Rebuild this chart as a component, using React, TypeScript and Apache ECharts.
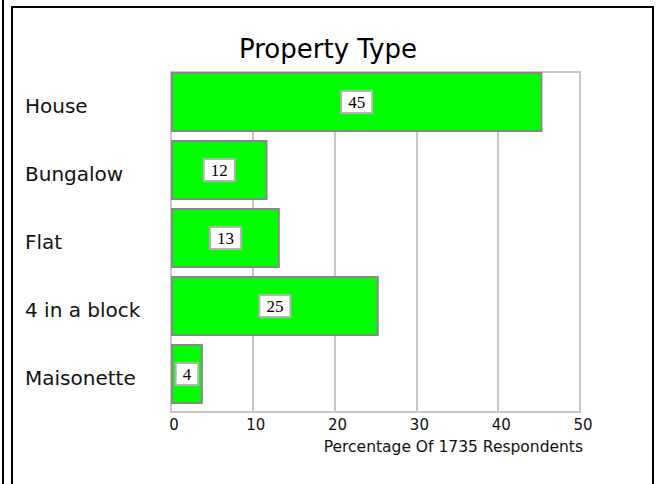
import React, { useEffect, useRef } from "react";
import * as echarts from "echarts";

const categories = ["House", "Bungalow", "Flat", "4 in a block", "Maisonette"];
const percentages = [45.4, 11.8, 13.3, 25.4, 3.9];
const spacer = [null, null, null, null, null];
const xTicks = { min: 0, max: 50, interval: 10 };
const titleText = "Property Type";
const xAxisName = "Percentage Of 1735 Respondents";

export default function App() {
  const ref = useRef<HTMLDivElement>(null);
  useEffect(() => {
    document.body.style.margin = "0";
    const chart = echarts.init(ref.current!, null, { renderer: "svg" });
    chart.setOption({
      animation: false,
      backgroundColor: "#ffffff",
      title: {
        text: titleText,
        left: "center",
        top: 31,
        textStyle: { fontFamily: "DejaVu Sans", fontSize: 26, fontWeight: "normal", color: "#000" },
      },
      graphic: [
        { type: "line", shape: { x1: 3, y1: 0, x2: 3, y2: 484 }, style: { stroke: "#000", lineWidth: 2 } },
        { type: "rect", shape: { x: 12, y: 7, width: 641, height: 520 }, style: { fill: "none", stroke: "#000", lineWidth: 2 } },
      ],
      grid: {
        left: 171,
        top: 72,
        width: 409,
        height: 340,
        show: true,
        borderColor: "#c8c8c8",
        borderWidth: 2,
        backgroundColor: "transparent",
      },
      xAxis: {
        type: "value",
        min: xTicks.min,
        max: xTicks.max,
        interval: xTicks.interval,
        name: xAxisName,
        nameLocation: "end",
        nameGap: 3,
        nameTextStyle: {
          fontFamily: "DejaVu Sans",
          fontSize: 15.5,
          color: "#111",
          align: "right",
          verticalAlign: "top",
          padding: [27, 0, 0, 0],
        },
        axisLine: { show: true, lineStyle: { color: "#c8c8c8", width: 2 } },
        axisTick: { show: false },
        axisLabel: { fontFamily: "DejaVu Sans", fontSize: 15, color: "#111", margin: 5, padding: [0, 0, 0, 6] },
        splitLine: { show: true, lineStyle: { color: "#c8c8c8", width: 2 } },
      },
      yAxis: {
        type: "category",
        data: categories,
        inverse: true,
        axisLine: { show: true, lineStyle: { color: "#c8c8c8", width: 2 } },
        axisTick: { show: false },
        splitLine: { show: false },
        axisLabel: {
          fontFamily: "DejaVu Sans",
          fontSize: 20,
          color: "#111",
          align: "left",
          margin: 146,
          padding: [5, 0, 0, 0],
        },
      },
      series: [
        {
          type: "bar",
          data: percentages,
          barWidth: 60,
          barGap: "0%",
          itemStyle: { color: "#00ff00", borderColor: "#888888", borderWidth: 2 },
          label: {
            show: true,
            position: "inside",
            formatter: (p: any) => String(Math.round(p.value)),
            fontFamily: "Liberation Serif",
            fontSize: 17,
            lineHeight: 17,
            color: "#000",
            backgroundColor: "#ffffff",
            borderColor: "#b4b4b4",
            borderWidth: 2,
            padding: [2, 6, 1, 6],
          },
        },
        {
          type: "bar",
          data: spacer,
          barWidth: 8,
          barGap: "0%",
          silent: true,
          itemStyle: { color: "transparent" },
        },
      ],
    });
    return () => chart.dispose();
  }, []);
  return <div ref={ref} style={{ position: "absolute", left: 0, top: 0, width: 656, height: 484 }} />;
}
